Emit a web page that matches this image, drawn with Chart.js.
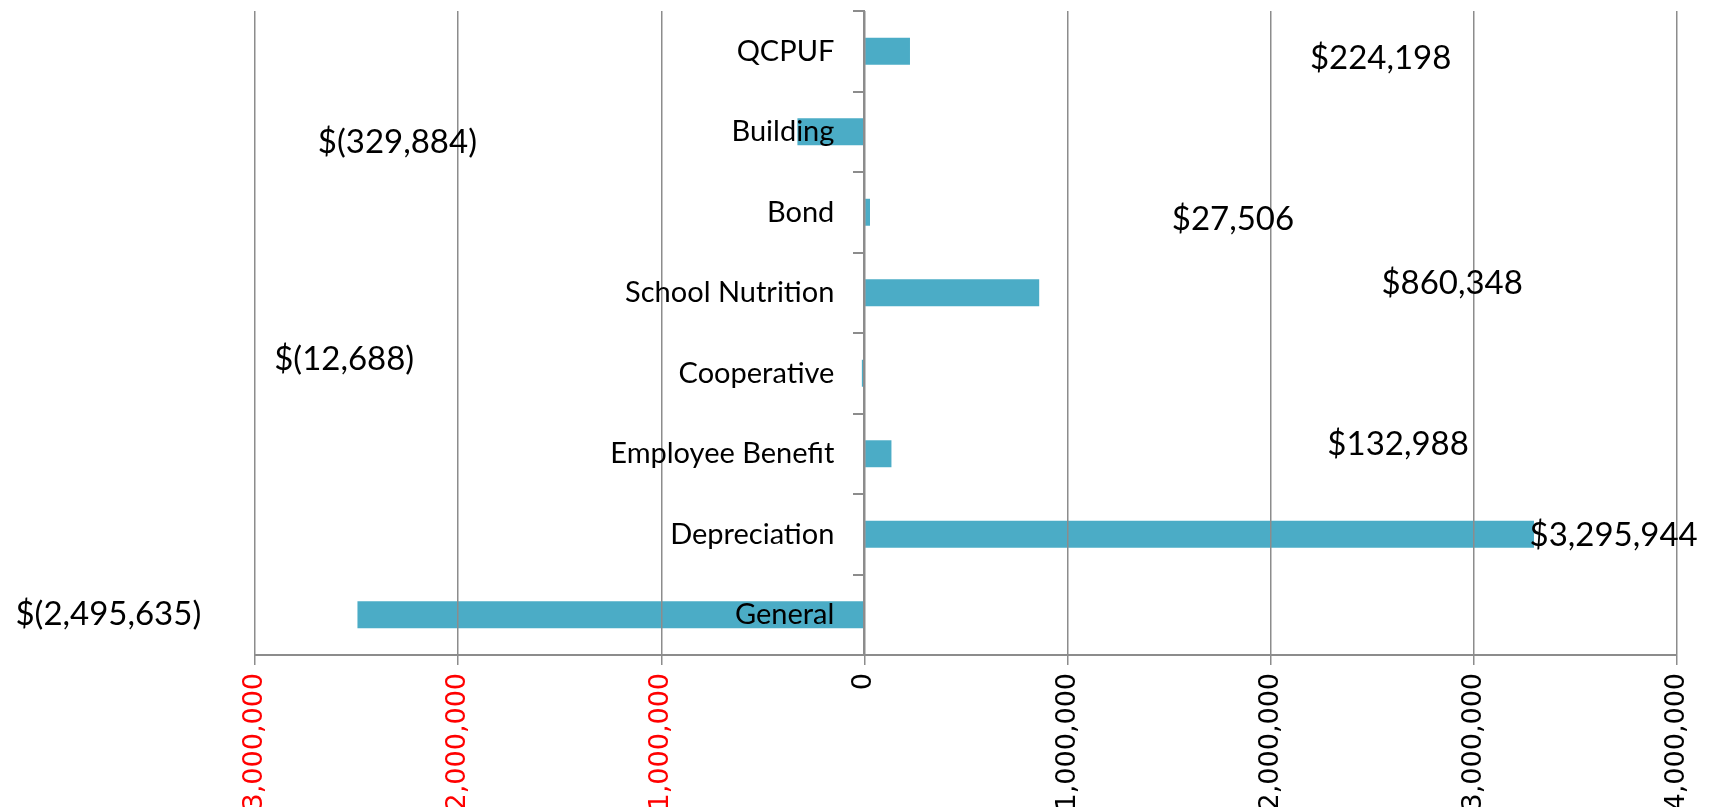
<!DOCTYPE html>
<html>
<head>
<meta charset="utf-8">
<script src="https://cdn.jsdelivr.net/npm/chart.js@4.4.1/dist/chart.umd.min.js"></script>
<style>
  html, body { margin: 0; padding: 0; background: #fff; overflow: hidden; }
  #wrap { width: 1714px; height: 807px; position: relative; }
</style>
</head>
<body>
<div id="wrap"><canvas id="fundChart"></canvas></div>
<script>
// Fund balance change by fund
const categories = ['QCPUF', 'Building', 'Bond', 'School Nutrition', 'Cooperative', 'Employee Benefit', 'Depreciation', 'General'];
const values = [224198, -329884, 27506, 860348, -12688, 132988, 3295944, -2495635];
const tickMin = -3000000;
const tickMax = 4000000;
const tickStep = 1000000;

// where the data labels sit (value-axis units + small vertical nudge), as placed in the original
const labelAnchorX = [2541000, -2299000, 1814000, 2893000, -2561000, 2627000, 3688000, -3722000];
const labelNudgeY = [7, 11, 7, -9, -14, -9, 1, 0];
// category names sit a little left of the zero line
const catLabelX = -148000;

function money(v) {
  const s = Math.abs(v).toLocaleString('en-US');
  return v < 0 ? '$(' + s + ')' : '$' + s;
}

const GRID = '#8c8c8c';
const noPad = (s) => { s.paddingTop = 0; s.paddingBottom = 0; };

// data labels
const valueLabels = {
  id: 'valueLabels',
  afterDraw(chart) {
    const ctx = chart.ctx;
    const meta = chart.getDatasetMeta(0);
    const xs = chart.scales.x;
    ctx.save();
    ctx.font = '33px Lato, "Open Sans", sans-serif';
    ctx.fillStyle = '#000';
    ctx.textAlign = 'center';
    ctx.textBaseline = 'middle';
    meta.data.forEach((bar, i) => {
      ctx.fillText(money(values[i]), xs.getPixelForValue(labelAnchorX[i]), bar.y + labelNudgeY[i]);
    });
    ctx.restore();
  }
};

new Chart(document.getElementById('fundChart'), {
  type: 'bar',
  data: {
    labels: categories,
    datasets: [{
      data: values,
      yAxisID: 'y',
      backgroundColor: '#4BACC6',
      borderWidth: 0,
      barPercentage: 0.335,
      categoryPercentage: 1
    }]
  },
  options: {
    indexAxis: 'y',
    responsive: true,
    maintainAspectRatio: false,
    animation: false,
    layout: { padding: { left: 255, right: 37, top: 11, bottom: 0 } },
    plugins: { legend: { display: false }, tooltip: { enabled: false } },
    scales: {
      x: {
        type: 'linear',
        min: tickMin,
        max: tickMax,
        afterFit: (s) => { s.height = 152; s.paddingLeft = 0; s.paddingRight = 0; },
        ticks: {
          stepSize: tickStep,
          autoSkip: false,
          maxRotation: 90,
          minRotation: 90,
          padding: 8,
          z: 1,
          font: { family: '"DejaVu Sans", Verdana, sans-serif', size: 27 },
          color: (c) => c.tick.value < 0 ? '#ff0000' : '#000000',
          callback: (v) => Math.abs(v).toLocaleString('en-US')
        },
        grid: { color: GRID, lineWidth: 1.5, tickLength: 10, drawTicks: true, z: 1 },
        border: { display: true, color: GRID, width: 2, z: 1 }
      },
      y: {
        type: 'category',
        position: { x: 0 },
        offset: true,
        afterFit: noPad,
        ticks: { display: false },
        grid: { drawOnChartArea: false, drawTicks: true, tickLength: 10, color: GRID, lineWidth: 2, z: 1 },
        border: { display: true, color: GRID, width: 2, z: 1 }
      },
      yNames: {
        type: 'category',
        axis: 'y',
        labels: categories,
        position: { x: catLabelX },
        offset: true,
        afterFit: noPad,
        ticks: {
          z: 2,
          font: { family: 'Lato, "Open Sans", sans-serif', size: 29 },
          color: '#000'
        },
        grid: { display: false, drawTicks: false },
        border: { display: false }
      }
    }
  },
  plugins: [valueLabels]
});
</script>
</body>
</html>
